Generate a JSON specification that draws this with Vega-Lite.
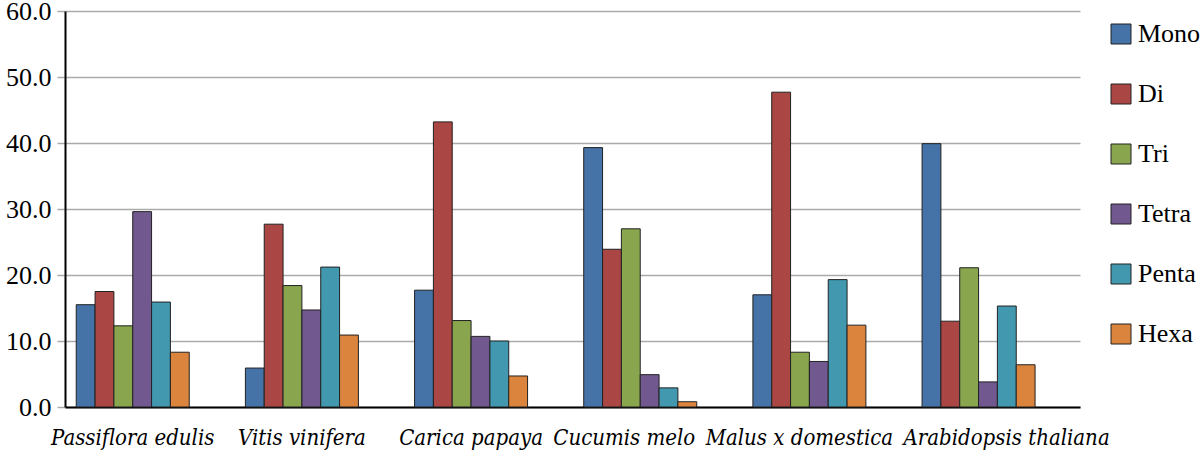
{
  "$schema": "https://vega.github.io/schema/vega-lite/v6.json",
  "width": 1015,
  "height": 396,
  "autosize": {"type": "none"},
  "padding": {"left": 65, "top": 11, "right": 120, "bottom": 49},
  "background": "white",
  "config": {"view": {"stroke": null}, "font": "Liberation Serif"},
  "data": {
    "values": [
      {"species": "Passiflora edulis", "motif": "Mono", "value": 15.5},
      {"species": "Passiflora edulis", "motif": "Di", "value": 17.5},
      {"species": "Passiflora edulis", "motif": "Tri", "value": 12.3},
      {"species": "Passiflora edulis", "motif": "Tetra", "value": 29.6},
      {"species": "Passiflora edulis", "motif": "Penta", "value": 15.9},
      {"species": "Passiflora edulis", "motif": "Hexa", "value": 8.3},
      {"species": "Vitis vinifera", "motif": "Mono", "value": 5.9},
      {"species": "Vitis vinifera", "motif": "Di", "value": 27.7},
      {"species": "Vitis vinifera", "motif": "Tri", "value": 18.4},
      {"species": "Vitis vinifera", "motif": "Tetra", "value": 14.7},
      {"species": "Vitis vinifera", "motif": "Penta", "value": 21.2},
      {"species": "Vitis vinifera", "motif": "Hexa", "value": 10.9},
      {"species": "Carica papaya", "motif": "Mono", "value": 17.7},
      {"species": "Carica papaya", "motif": "Di", "value": 43.2},
      {"species": "Carica papaya", "motif": "Tri", "value": 13.1},
      {"species": "Carica papaya", "motif": "Tetra", "value": 10.7},
      {"species": "Carica papaya", "motif": "Penta", "value": 10.0},
      {"species": "Carica papaya", "motif": "Hexa", "value": 4.7},
      {"species": "Cucumis melo", "motif": "Mono", "value": 39.3},
      {"species": "Cucumis melo", "motif": "Di", "value": 23.9},
      {"species": "Cucumis melo", "motif": "Tri", "value": 27.0},
      {"species": "Cucumis melo", "motif": "Tetra", "value": 4.9},
      {"species": "Cucumis melo", "motif": "Penta", "value": 2.9},
      {"species": "Cucumis melo", "motif": "Hexa", "value": 0.8},
      {"species": "Malus x domestica", "motif": "Mono", "value": 17.0},
      {"species": "Malus x domestica", "motif": "Di", "value": 47.7},
      {"species": "Malus x domestica", "motif": "Tri", "value": 8.3},
      {"species": "Malus x domestica", "motif": "Tetra", "value": 6.9},
      {"species": "Malus x domestica", "motif": "Penta", "value": 19.3},
      {"species": "Malus x domestica", "motif": "Hexa", "value": 12.4},
      {"species": "Arabidopsis thaliana", "motif": "Mono", "value": 39.9},
      {"species": "Arabidopsis thaliana", "motif": "Di", "value": 13.0},
      {"species": "Arabidopsis thaliana", "motif": "Tri", "value": 21.1},
      {"species": "Arabidopsis thaliana", "motif": "Tetra", "value": 3.8},
      {"species": "Arabidopsis thaliana", "motif": "Penta", "value": 15.3},
      {"species": "Arabidopsis thaliana", "motif": "Hexa", "value": 6.4}
    ]
  },
  "mark": {"type": "bar", "stroke": "#222222", "strokeWidth": 1},
  "encoding": {
    "x": {
      "field": "species",
      "type": "nominal",
      "sort": ["Passiflora edulis", "Vitis vinifera", "Carica papaya", "Cucumis melo", "Malus x domestica", "Arabidopsis thaliana"],
      "scale": {"paddingInner": 0.332, "paddingOuter": 0.166, "align": 0.2},
      "axis": {
        "title": null,
        "labelAngle": 0,
        "labelFont": "DejaVu Serif Condensed",
        "labelFontStyle": "italic",
        "labelFontSize": 22,
        "labelColor": "black",
        "labelLimit": 0,
        "labelOffset": {
          "condition": [
            {"test": "datum.value === 'Cucumis melo'", "value": -16},
            {"test": "datum.value === 'Malus x domestica'", "value": -10},
            {"test": "datum.value === 'Arabidopsis thaliana'", "value": 28}
          ],
          "value": 0
        },
        "ticks": false,
        "labelPadding": 20,
        "domainColor": "black",
        "domainWidth": 2,
        "labelOverlap": false,
        "labelBound": false
      }
    },
    "xOffset": {
      "field": "motif",
      "type": "nominal",
      "sort": ["Mono", "Di", "Tri", "Tetra", "Penta", "Hexa"],
      "scale": {"paddingInner": 0, "paddingOuter": 0}
    },
    "y": {
      "field": "value",
      "type": "quantitative",
      "scale": {"domain": [0, 60]},
      "axis": {
        "title": null,
        "values": [0, 10, 20, 30, 40, 50, 60],
        "format": ".1f",
        "labelFont": "Liberation Serif",
        "labelFontSize": 26,
        "labelColor": "black",
        "tickColor": "#aaaaaa",
        "tickSize": 8,
        "tickWidth": 1.5,
        "labelPadding": 6,
        "gridColor": "#aaaaaa",
        "gridWidth": 1.5,
        "domainColor": "black",
        "domainWidth": 2
      }
    },
    "color": {
      "field": "motif",
      "type": "nominal",
      "scale": {
        "domain": ["Mono", "Di", "Tri", "Tetra", "Penta", "Hexa"],
        "range": ["#4572a7", "#aa4643", "#89a54e", "#71588f", "#4198af", "#db843d"]
      },
      "legend": {
        "orient": "none",
        "legendX": 1043,
        "legendY": 10,
        "title": null,
        "symbolType": "square",
        "symbolSize": 400,
        "symbolStrokeColor": "#222222",
        "symbolStrokeWidth": 1,
        "symbolOpacity": 1,
        "labelFont": "Times New Roman",
        "labelFontSize": 26,
        "labelLimit": 0,
        "labelColor": "black",
        "rowPadding": 34,
        "labelOffset": 4
      }
    }
  }
}
